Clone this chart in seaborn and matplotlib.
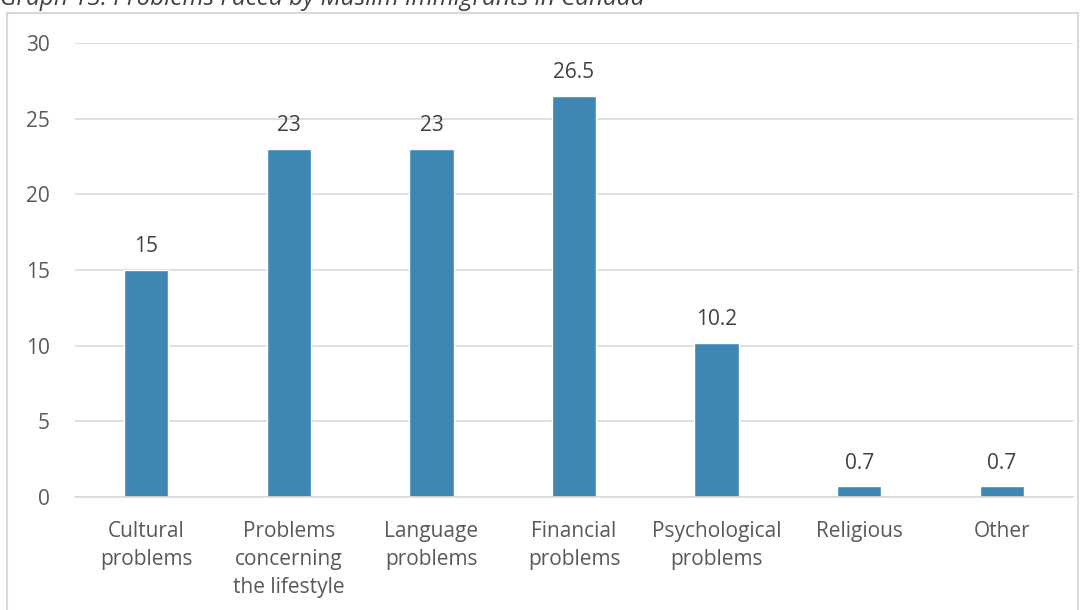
import matplotlib
matplotlib.use("Agg")
import matplotlib.pyplot as plt
import matplotlib.patches as mpatches
import seaborn as sns
import pandas as pd

categories = ["Cultural\nproblems", "Problems\nconcerning\nthe lifestyle", "Language\nproblems",
              "Financial\nproblems", "Psychological\nproblems", "Religious", "Other"]
values = [15, 23, 23, 26.5, 10.2, 0.7, 0.7]
labels = ["15", "23", "23", "26.5", "10.2", "0.7", "0.7"]
yticks = [0, 5, 10, 15, 20, 25, 30]

df = pd.DataFrame({"category": categories, "value": values})

sns.set_theme(style="white")
plt.rcParams["font.family"] = ["Open Sans", "DejaVu Sans"]

fig = plt.figure(figsize=(10.91, 6.10), dpi=100)
ax = fig.add_axes([75 / 1091, 113 / 610, (1073 - 75) / 1091, (497 - 43) / 610])

sns.barplot(data=df, x="category", y="value", color="#3f87b3", width=0.31,
            saturation=1, ax=ax)

# data labels above bars
for i, (v, t) in enumerate(zip(values, labels)):
    ax.annotate(t, (i, v), xytext=(0, 9), textcoords="offset points",
                ha="center", va="bottom", fontsize=15, color="#404040")

ax.set_ylim(0, 30)
ax.set_yticks(yticks)
ax.yaxis.grid(True, color="#d9d9d9", linewidth=1.2)
ax.set_axisbelow(True)
for s in ["top", "right", "left"]:
    ax.spines[s].set_visible(False)
ax.spines["bottom"].set_color("#d9d9d9")
ax.spines["bottom"].set_linewidth(1.2)
ax.tick_params(axis="both", length=0, labelsize=15, labelcolor="#595959")
ax.tick_params(axis="y", pad=18)
ax.tick_params(axis="x", pad=17)
for lab in ax.get_xticklabels():
    lab.set_linespacing(1.45)
ax.set_xlabel("")
ax.set_ylabel("")

# outer chart border
fig.patches.append(mpatches.Rectangle((7 / 1091, -0.05), (1078 - 7) / 1091, 1.05 - 13 / 610,
                                      transform=fig.transFigure, fill=False,
                                      edgecolor="#d9d9d9", linewidth=1.5))

# title, cropped at the top like the reference
fig.text(0.0, 1 - 5 / 610, "Graph 13: Problems Faced by Muslim Immigrants in Canada",
         ha="left", va="baseline", fontsize=17.5, style="italic", color="#404040")

fig.savefig("out.png", dpi=100)
